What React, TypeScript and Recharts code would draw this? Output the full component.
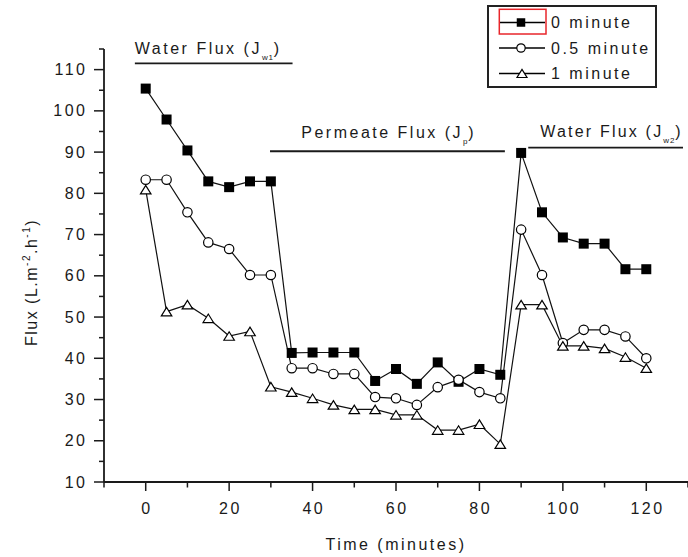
import { Legend, Line, LineChart, ReferenceLine, XAxis, YAxis } from "recharts";

// Sampling times (minutes) and flux readings for each pre-treatment time.
const TIME = [0, 5, 10, 15, 20, 25, 30, 35, 40, 45, 50, 55, 60, 65, 70, 75, 80, 85, 90, 95, 100, 105, 110, 115, 120];
const FLUX_0 = [105.4, 97.9, 90.4, 82.9, 81.5, 82.9, 82.9, 41.3, 41.4, 41.4, 41.4, 34.5, 37.4, 33.8, 39, 34.3, 37.4, 36, 89.8, 75.4, 69.3, 67.8, 67.8, 61.6, 61.6];
const FLUX_05 = [83.3, 83.3, 75.4, 68.1, 66.5, 60.2, 60.2, 37.6, 37.6, 36.2, 36.2, 30.6, 30.3, 28.7, 33, 34.8, 31.8, 30.3, 71.2, 60.2, 43.7, 46.9, 46.9, 45.3, 40];
const FLUX_1 = [80.9, 51.3, 53, 49.7, 45.4, 46.5, 33.1, 31.8, 30.3, 28.7, 27.6, 27.6, 26.3, 26.3, 22.6, 22.6, 24, 19.2, 53, 53, 43, 43, 42.4, 40.3, 37.6];
const SERIES_NAMES = ["0 minute", "0.5 minute", "1 minute"];

const X_TICKS = [-10, 0, 10, 20, 30, 40, 50, 60, 70, 80, 90, 100, 110, 120, 130];
const Y_TICKS = [10, 15, 20, 25, 30, 35, 40, 45, 50, 55, 60, 65, 70, 75, 80, 85, 90, 95, 100, 105, 110, 115];

// phase annotations: bar segment in data units + label text
const PHASE_TEXT = ["Water Flux (J", "Permeate Flux (J", "Water Flux (J"];
const PHASE_SUB = ["w1", "p", "w2"];
const PHASE_X1 = [-2.6, 29.8, 91.7];
const PHASE_X2 = [35.2, 86.1, 128.8];
const PHASE_Y = [111.5, 90.2, 91.1];

const FONT = "'Liberation Sans', Arial, sans-serif";
const INK = "#1a1a1a";
const LS = 2.5;

// where each phase label sits relative to its bar
const PHASE_LABEL_POS = [
  { anchor: "start", dx: 0, dy: -9.5, ls: LS },
  { anchor: "middle", dx: 0, dy: -13, ls: LS },
  { anchor: "start", dx: 12, dy: -11, ls: 2.2 },
];

const rows = TIME.map((t, i) => ({ t, f0: FLUX_0[i], f05: FLUX_05[i], f1: FLUX_1[i] }));

function Square({ cx, cy, size = 10 }: { cx: number; cy: number; size?: number }) {
  return <rect x={cx - size / 2} y={cy - size / 2} width={size} height={size} fill="#000" />;
}
function Ring({ cx, cy, r = 4.7 }: { cx: number; cy: number; r?: number }) {
  return <circle cx={cx} cy={cy} r={r} fill="#fff" stroke="#000" strokeWidth={1.2} />;
}
function Tri({ cx, cy, w = 10.5, h = 8.5 }: { cx: number; cy: number; w?: number; h?: number }) {
  const pts = `${cx - w / 2},${cy + h / 2} ${cx + w / 2},${cy + h / 2} ${cx},${cy - h / 2}`;
  return <polygon points={pts} fill="#fff" stroke="#000" strokeWidth={1.2} />;
}

const MARKERS = [Square, Ring, Tri];

const dotOf = (k: number) => (p: any) => {
  const M = MARKERS[k];
  if (p.cx == null || p.cy == null) return <g key={`n-${k}-${p.index}`} />;
  return <M key={`d-${k}-${p.index}`} cx={p.cx} cy={p.cy} />;
};

function XTick({ x, y, payload }: any) {
  const v = payload.value;
  const major = v % 20 === 0 && v >= 0 && v <= 120;
  return (
    <g>
      <line x1={x} x2={x} y1={y} y2={y + (major ? 9 : 5.5)} stroke={INK} strokeWidth={1.5} />
      {major && (
        <text x={x} dx={LS / 2} y={y + 32} textAnchor="middle" fontFamily={FONT} fontSize={16} letterSpacing={LS} fill={INK}>
          {v}
        </text>
      )}
    </g>
  );
}

function YTick({ x, y, payload }: any) {
  const v = payload.value;
  const major = v % 10 === 0;
  return (
    <g>
      <line x1={x} x2={x - (major ? 10 : 5)} y1={y} y2={y} stroke={INK} strokeWidth={1.5} />
      {major && v <= 110 && (
        <text x={x - 16.5} y={y + 5.5} textAnchor="end" fontFamily={FONT} fontSize={16} letterSpacing={LS} fill={INK}>
          {v}
        </text>
      )}
    </g>
  );
}

function XLabel({ viewBox }: any) {
  const cx = viewBox.x + viewBox.width / 2;
  return (
    <text x={cx} y={viewBox.y + 68} textAnchor="middle" fontFamily={FONT} fontSize={16} letterSpacing={LS} fill={INK}>
      Time (minutes)
    </text>
  );
}

function YLabel({ viewBox }: any) {
  const cx = viewBox.x + 37;
  const cy = viewBox.y + viewBox.height / 2 + 17;
  return (
    <text
      x={cx}
      y={cy}
      transform={`rotate(-90 ${cx} ${cy})`}
      textAnchor="middle"
      fontFamily={FONT}
      fontSize={16}
      letterSpacing={1.5}
      fill={INK}
    >
      Flux (L.m
      <tspan fontSize={10} dy={-7}>-2</tspan>
      <tspan dy={7}>.h</tspan>
      <tspan fontSize={10} dy={-7}>-1</tspan>
      <tspan dy={7}>)</tspan>
    </text>
  );
}

const phaseLabel = (i: number) => (props: any) => {
  const vb = props.viewBox || {};
  const pos = PHASE_LABEL_POS[i];
  const x0 = vb.x ?? 0;
  const w = vb.width ?? 0;
  const x = pos.anchor === "middle" ? x0 + w / 2 : x0 + pos.dx;
  return (
    <text x={x} y={(vb.y ?? 0) + pos.dy} textAnchor={pos.anchor} fontFamily={FONT} fontSize={16} letterSpacing={pos.ls} fill={INK}>
      {PHASE_TEXT[i]}
      <tspan fontSize={8} letterSpacing={0.8} dy={6}>{PHASE_SUB[i]}</tspan>
      <tspan dy={-6} letterSpacing={0}>)</tspan>
    </text>
  );
};

function LegendBox({ payload }: any) {
  const items = (payload || []).slice(0, 3);
  return (
    <svg width={170} height={83} style={{ display: "block" }}>
      <rect x={1} y={1} width={168} height={81} fill="#fff" stroke="#222" strokeWidth={2} />
      {items.map((entry: any, i: number) => {
        const cy = 17.5 + i * 25.5;
        const M = MARKERS[i];
        return (
          <g key={i}>
            <line x1={12} x2={58} y1={cy} y2={cy} stroke="#000" strokeWidth={1.5} />
            {i === 0 ? <M cx={34} cy={cy} size={8.5} /> : i === 1 ? <M cx={34} cy={cy} r={4.2} /> : <M cx={35} cy={cy} w={10} h={8} />}
            <text x={64} y={cy + 5.5} fontFamily={FONT} fontSize={16} letterSpacing={LS} fill={INK}>
              {entry.value ?? SERIES_NAMES[i]}
            </text>
          </g>
        );
      })}
      <rect x={12.3} y={4.3} width={46.7} height={24.7} fill="none" stroke="#e8262b" strokeWidth={1.5} />
    </svg>
  );
}

export default function App() {
  return (
    <div style={{ width: 688, height: 557, background: "#fff" }}>
      <style>{"html,body{margin:0;padding:0;overflow:hidden;}"}</style>
      <LineChart width={688} height={557} data={rows} margin={{ top: 49, right: 0, bottom: 0, left: 0 }}>
        <XAxis
          type="number"
          dataKey="t"
          domain={[-10, 130]}
          ticks={X_TICKS}
          interval={0}
          allowDataOverflow
          height={75}
          tickSize={0}
          tickMargin={0}
          tickLine={false}
          tick={<XTick />}
          axisLine={{ stroke: INK, strokeWidth: 1.8 }}
          label={(p: any) => <XLabel {...p} />}
        />
        <YAxis
          type="number"
          domain={[10, 115]}
          ticks={Y_TICKS}
          interval={0}
          allowDataOverflow
          width={104}
          tickSize={0}
          tickMargin={0}
          tickLine={false}
          tick={<YTick />}
          axisLine={{ stroke: INK, strokeWidth: 1.8 }}
          label={(p: any) => <YLabel {...p} />}
        />
        {PHASE_TEXT.map((_, i) => (
          <ReferenceLine
            key={`ph-${i}`}
            segment={[
              { x: PHASE_X1[i], y: PHASE_Y[i] },
              { x: PHASE_X2[i], y: PHASE_Y[i] },
            ]}
            stroke={INK}
            strokeWidth={1.8}
            label={phaseLabel(i)}
          />
        ))}
        <Line dataKey="f0" name={SERIES_NAMES[0]} stroke="#111" strokeWidth={1.2} dot={dotOf(0)} activeDot={false} isAnimationActive={false} />
        <Line dataKey="f05" name={SERIES_NAMES[1]} stroke="#111" strokeWidth={1.2} dot={dotOf(1)} activeDot={false} isAnimationActive={false} />
        <Line dataKey="f1" name={SERIES_NAMES[2]} stroke="#111" strokeWidth={1.2} dot={dotOf(2)} activeDot={false} isAnimationActive={false} />
        <Legend
          layout="vertical"
          align="center"
          verticalAlign="middle"
          wrapperStyle={{ left: 487, top: 5, width: 170, height: 83 }}
          content={<LegendBox />}
        />
      </LineChart>
    </div>
  );
}
